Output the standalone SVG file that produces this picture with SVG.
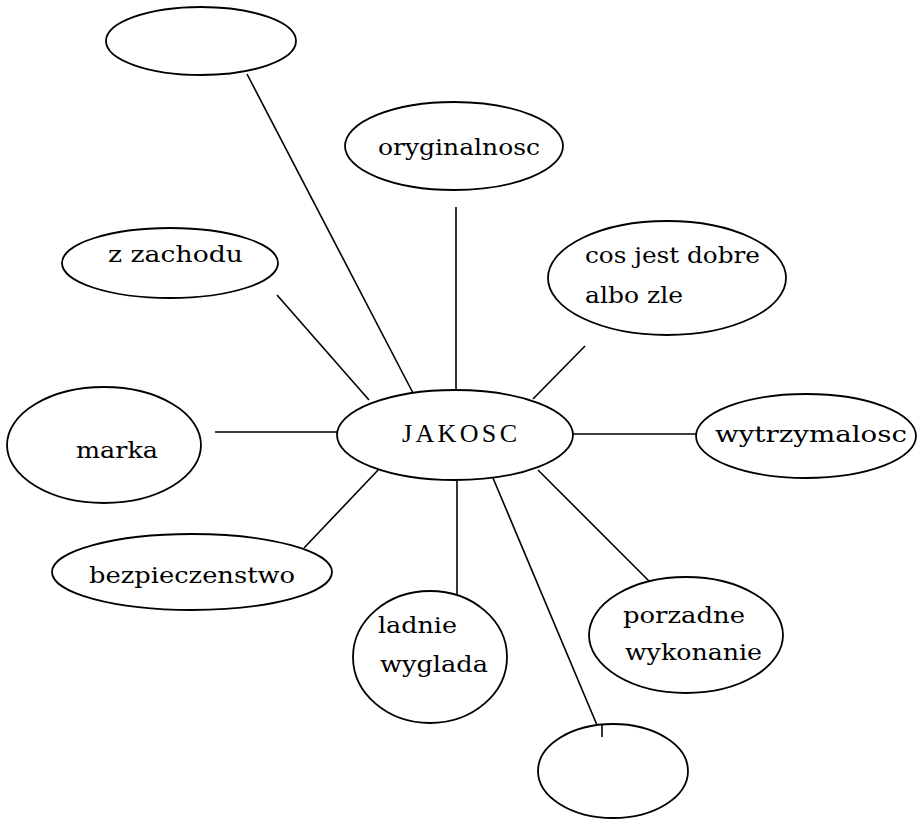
<svg xmlns="http://www.w3.org/2000/svg" width="917" height="822" viewBox="0 0 917 822">
<style>
.n{fill:#fff;stroke:#000;stroke-width:1.8}
.c line{stroke:#000;stroke-width:1.6}
text{font-family:"DejaVu Serif","Liberation Serif",serif;font-size:23px;fill:#000}
.big{font-size:26px;font-family:"Liberation Serif","DejaVu Serif",serif}
</style>
<rect width="917" height="822" fill="#fff"/>
<g class="c" id="connectors">
<line x1="247" y1="74" x2="413" y2="393"/>
<line x1="456" y1="207" x2="456" y2="390"/>
<line x1="585" y1="346" x2="533" y2="399"/>
<line x1="277" y1="295" x2="369" y2="400"/>
<line x1="215" y1="432" x2="338" y2="432"/>
<line x1="572" y1="434" x2="700" y2="434"/>
<line x1="380" y1="468" x2="304" y2="548"/>
<line x1="457" y1="480" x2="457" y2="600"/>
<line x1="493" y1="478" x2="602" y2="737"/>
<line x1="538" y1="470" x2="653" y2="585"/>
</g>
<g id="n_empty_top"><ellipse class="n" cx="201" cy="41" rx="95" ry="34"/></g>
<g id="n_oryginalnosc"><ellipse class="n" cx="454" cy="146" rx="109" ry="44"/><text x="378" y="155" textLength="162" lengthAdjust="spacingAndGlyphs">oryginalnosc</text></g>
<g id="n_cos"><ellipse class="n" cx="667" cy="278" rx="119" ry="57"/><text x="585" y="263" textLength="175" lengthAdjust="spacingAndGlyphs">cos jest dobre</text><text x="585" y="303" textLength="98" lengthAdjust="spacingAndGlyphs">albo zle</text></g>
<g id="n_zachodu"><ellipse class="n" cx="170" cy="263" rx="108" ry="35"/><text x="108" y="262" textLength="135" lengthAdjust="spacingAndGlyphs">z zachodu</text></g>
<g id="n_jakosc"><ellipse class="n" cx="455" cy="435" rx="118" ry="45"/><text class="big" x="402" y="442" textLength="115" lengthAdjust="spacing">JAKOSC</text></g>
<g id="n_marka"><ellipse class="n" cx="104" cy="445" rx="97" ry="58"/><text x="76" y="458" textLength="82" lengthAdjust="spacingAndGlyphs">marka</text></g>
<g id="n_wytrzymalosc"><ellipse class="n" cx="806" cy="436" rx="110" ry="42"/><text x="715" y="442" textLength="192" lengthAdjust="spacingAndGlyphs">wytrzymalosc</text></g>
<g id="n_bezpieczenstwo"><ellipse class="n" cx="192" cy="572" rx="140" ry="38"/><text x="89" y="583" textLength="206" lengthAdjust="spacingAndGlyphs">bezpieczenstwo</text></g>
<g id="n_ladnie"><ellipse class="n" cx="430" cy="657" rx="77" ry="66"/><text x="378" y="633" textLength="79" lengthAdjust="spacingAndGlyphs">ladnie</text><text x="380" y="672" textLength="108" lengthAdjust="spacingAndGlyphs">wyglada</text></g>
<g id="n_porzadne"><ellipse class="n" cx="686" cy="635" rx="97" ry="58"/><text x="623" y="623" textLength="122" lengthAdjust="spacingAndGlyphs">porzadne</text><text x="625" y="660" textLength="137" lengthAdjust="spacingAndGlyphs">wykonanie</text></g>
<g id="n_empty_bottom"><ellipse class="n" cx="613" cy="771" rx="75" ry="47"/></g>
<g class="c"><line x1="602" y1="724" x2="602" y2="737"/></g>
</svg>
